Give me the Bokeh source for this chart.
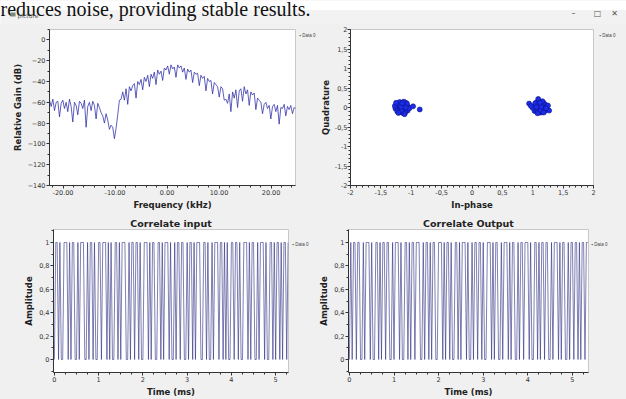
from bokeh.plotting import figure
from bokeh.layouts import column, row
from bokeh.models import (Range1d, SingleIntervalTicker, NumeralTickFormatter,
                          CustomJSTickFormatter)
from bokeh.core.properties import value
from bokeh.embed import file_html
from bokeh.resources import INLINE

# ---------------- data ----------------
freq_start_khz = -22.6
freq_step_khz = 0.32
gain_db = [
    -58, -64, -57, -68, -60, -59, -74, -61, -58, -66,
    -60, -69, -57, -64, -79, -60, -63, -72, -59, -61,
    -66, -58, -84, -64, -60, -68, -59, -63, -76, -61,
    -65, -70, -73, -80, -71, -77, -86, -82, -84, -95,
    -85, -72, -58, -57, -50, -58, -47, -62, -45, -49,
    -44, -42, -56, -40, -43, -38, -48, -36, -40, -34,
    -45, -33, -37, -31, -43, -29, -33, -30, -39, -27,
    -29, -25, -33, -24, -28, -26, -36, -24, -27, -25,
    -31, -27, -38, -28, -31, -29, -41, -31, -33, -32,
    -44, -34, -37, -35, -49, -37, -40, -39, -52, -41,
    -43, -45, -55, -45, -47, -58, -57, -61, -52, -69,
    -50, -56, -48, -65, -49, -47, -59, -45, -52, -48,
    -63, -50, -53, -51, -67, -56, -58, -60, -71, -62,
    -60, -66, -63, -76, -64, -62, -69, -63, -81, -65,
    -66, -62, -73, -64, -67, -63, -71, -65, -66,
]
freq_khz = [freq_start_khz + i * freq_step_khz for i in range(len(gain_db))]

const_i = [
    -1.15, -1.10, -1.20, -1.05, -1.24, -1.12, -1.18, -1.08, -1.22, -1.14,
    -1.16, -1.11, -1.19, -1.06, -1.26, -1.13, -1.17, -1.09, -1.21, -1.15,
    -1.03, -1.27, -1.12, -1.18, -1.10, -1.20, -1.14, -1.16, -1.07, -1.23,
    -1.13, -1.17, -1.11, -1.19, -1.15, -1.09, -1.21, -0.97, -0.86, -1.25,
    1.12, 1.07, 1.17, 1.02, 1.21, 1.09, 1.15, 1.05, 1.19, 1.11,
    1.13, 1.08, 1.16, 1.03, 1.23, 1.10, 1.14, 1.06, 1.18, 1.12,
    1.00, 1.25, 1.09, 1.15, 1.07, 1.27, 1.11, 1.13, 1.04, 1.20,
    1.10, 1.14, 1.08, 1.16, 1.12, 1.06, 1.18, 0.94, 0.97, 1.22,
]
const_q = [
    0.00, 0.05, -0.04, 0.02, 0.06, -0.09, 0.10, -0.06, -0.01, 0.13,
    -0.12, 0.09, 0.03, -0.08, -0.03, -0.15, 0.07, 0.12, 0.11, -0.05,
    -0.02, 0.04, 0.15, -0.11, -0.13, 0.08, 0.02, -0.07, 0.10, -0.10,
    0.06, 0.01, -0.17, 0.14, 0.11, 0.00, -0.14, 0.03, -0.05, 0.12,
    0.00, 0.06, -0.05, 0.03, 0.07, -0.10, 0.11, -0.07, -0.02, 0.14,
    -0.13, 0.10, 0.04, -0.09, -0.04, -0.12, 0.08, 0.13, 0.12, -0.06,
    -0.01, 0.05, 0.22, -0.12, -0.11, -0.08, 0.03, -0.08, 0.11, -0.09,
    0.07, 0.02, -0.15, 0.16, 0.12, 0.01, -0.13, 0.10, 0.04, -0.02,
]

sample_period_ms = 1 / 32
corr_input = [
    0, 1, 1, 0, 1, 0, 0, 1, 1, 1, 0, 1, 0, 1, 1, 0, 0, 1, 0, 1,
    1, 1, 0, 0, 1, 0, 1, 1, 0, 1, 0, 0, 1, 1, 0, 1, 1, 1, 0, 1,
    0, 1, 0, 0, 1, 1, 0, 1, 0, 1, 1, 1, 0, 0, 1, 0, 1, 1, 0, 1,
    1, 0, 1, 0, 0, 1, 1, 1, 0, 1, 0, 1, 1, 0, 0, 1, 1, 0, 1, 0,
    1, 1, 1, 0, 1, 0, 0, 1, 0, 1, 1, 0, 1, 1, 0, 0, 1, 0, 1, 1,
    0, 1, 0, 1, 1, 1, 0, 0, 1, 1, 0, 1, 0, 0, 1, 0, 1, 1, 1, 0,
    1, 1, 0, 1, 0, 1, 0, 0, 1, 1, 0, 1, 1, 0, 1, 0, 0, 1, 1, 1,
    0, 1, 0, 1, 1, 0, 0, 1, 0, 1, 1, 1, 0, 1, 0, 0, 1, 1, 0, 1,
    0, 1, 1, 0, 1, 0, 1, 1, 0, 1,
]
corr_output = [
    0, 1, 0, 1, 1, 0, 1, 1, 0, 0, 1, 0, 1, 1, 1, 0, 1, 0, 0, 1,
    1, 0, 1, 0, 1, 1, 0, 1, 1, 0, 0, 1, 0, 1, 1, 1, 0, 1, 0, 0,
    1, 1, 0, 1, 0, 1, 1, 0, 1, 1, 1, 0, 0, 1, 0, 1, 1, 0, 1, 0,
    1, 1, 0, 0, 1, 1, 1, 0, 1, 0, 1, 1, 0, 1, 0, 0, 1, 1, 0, 1,
    0, 1, 1, 1, 0, 1, 0, 0, 1, 0, 1, 1, 0, 1, 1, 0, 1, 0, 0, 1,
    1, 1, 0, 1, 0, 1, 1, 0, 0, 1, 0, 1, 1, 1, 0, 1, 0, 1, 1, 0,
    0, 1, 0, 1, 1, 0, 1, 1, 1, 0, 1, 0, 0, 1, 1, 0, 1, 0, 1, 1,
    0, 1, 1, 0, 0, 1, 0, 1, 1, 1, 0, 1, 0, 1, 1, 0, 0, 1, 0, 1,
    1, 0, 1, 1, 0, 1, 0, 1, 1, 0, 1, 1,
]
t_in = [i * sample_period_ms for i in range(len(corr_input))]
t_out = [i * sample_period_ms for i in range(len(corr_output))]
legend_text = "\u25aa Data 0"

# ---------------- styling helpers ----------------
GREY = "#f0f0f0"
TICK_FONT = "6.5px"
LABEL_FONT = "8.5px"


def style(p, title=None):
    p.border_fill_color = GREY
    p.background_fill_color = "white"
    p.outline_line_color = "#c8c8c8"
    p.grid.visible = False
    for ax in p.axis:
        ax.axis_line_color = "#333333"
        ax.major_tick_line_color = "#333333"
        ax.minor_tick_line_color = "#333333"
        ax.major_tick_out = 3
        ax.major_tick_in = 0
        ax.minor_tick_out = 2
        ax.minor_tick_in = 0
        ax.major_label_text_font = "DejaVu Sans"
        ax.major_label_text_font_size = TICK_FONT
        ax.major_label_text_color = "#333333"
        ax.major_label_standoff = 1
        ax.axis_label_text_font = "DejaVu Sans"
        ax.axis_label_text_font_size = LABEL_FONT
        ax.axis_label_text_font_style = "bold"
        ax.axis_label_text_color = "#222222"
        ax.axis_label_standoff = 2
    if title:
        p.title.text = title
        p.title.align = "center"
        p.title.text_font = "DejaVu Sans"
        p.title.text_font_size = "9.5px"
        p.title.text_font_style = "bold"
        p.title.text_color = "#222222"
        p.title.standoff = 2


def legend_fig(width, height, ytop):
    """A narrow strip beside a plot, holding its one-entry legend."""
    lf = figure(width=width, height=height, x_range=Range1d(0, width),
                y_range=Range1d(height, 0), toolbar_location=None,
                output_backend="svg", min_border=0,
                x_axis_location=None, y_axis_location=None)
    lf.grid.visible = False
    lf.outline_line_color = None
    lf.background_fill_color = GREY
    lf.border_fill_color = GREY
    lf.text(x=[1], y=[ytop], text=[legend_text], text_font=value("Liberation Sans"),
            text_font_size="4.5px", text_baseline="middle", text_color="#444444")
    return lf


comma = CustomJSTickFormatter(
    code="return (Math.round(tick * 10) / 10).toString().replace('.', ',');")

# ---------------- header (page text + window title bar) ----------------
header = figure(width=626, height=24, x_range=Range1d(0, 626), y_range=Range1d(24, 0),
                toolbar_location=None, output_backend="svg", min_border=0,
                x_axis_location=None, y_axis_location=None)
header.grid.visible = False
header.outline_line_color = None
header.background_fill_color = "white"
header.border_fill_color = "white"
header.quad(left=[0], right=[626], top=[9.5], bottom=[24], fill_color="#f2f2f2", line_color=None)
header.text(x=[0], y=[8], text=["reduces noise, providing stable results."],
            text_font=value("Liberation Serif"), text_font_size="20px",
            text_baseline="alphabetic", text_color="#111111")
header.quad(left=[10], right=[15], top=[12], bottom=[16], fill_color="#7a8a7a", line_color=None)
header.text(x=[17], y=[14.5], text=["picture"], text_font=value("DejaVu Sans"),
            text_font_size="6px", text_baseline="middle", text_color="#666666")
header.text(x=[573, 597, 614], y=[13, 13, 13], text=["\u2013", "\u25a1", "\u2715"],
            text_font=value("DejaVu Sans"), text_font_size="8px", text_baseline="middle",
            text_align="center", text_color="#555555")

# ---------------- top-left: spectrum  (x 0..298) ----------------
p1 = figure(width=298, height=188, x_range=Range1d(-22.6, 24.7), y_range=Range1d(-140, 10),
            toolbar_location=None, output_backend="svg",
            min_border_left=49, min_border_right=3, min_border_top=5, min_border_bottom=24)
p1.line(freq_khz, gain_db, line_color="#2d2da8", line_width=0.9, line_alpha=0.85)
p1.xaxis.ticker = SingleIntervalTicker(interval=10, num_minor_ticks=5)
p1.yaxis.ticker = SingleIntervalTicker(interval=20, num_minor_ticks=2)
p1.xaxis.formatter = NumeralTickFormatter(format="0.00")
p1.xaxis.axis_label = "Frequency (kHz)"
p1.yaxis.axis_label = "Relative Gain (dB)"
style(p1)
leg1 = legend_fig(19, 188, 7)          # x 298..317

# ---------------- top-right: constellation  (x 317..598) ----------------
p2 = figure(width=281, height=188, x_range=Range1d(-2, 2), y_range=Range1d(-2, 2),
            toolbar_location=None, output_backend="svg",
            min_border_left=27, min_border_right=5, min_border_top=5, min_border_bottom=24)
p2.scatter(const_i, const_q, size=5, fill_color="#1a2ee8", line_color="#10108a",
           line_width=0.6)
p2.xaxis.ticker = SingleIntervalTicker(interval=0.5, num_minor_ticks=5)
p2.yaxis.ticker = SingleIntervalTicker(interval=0.5, num_minor_ticks=5)
p2.xaxis.formatter = comma
p2.yaxis.formatter = comma
p2.xaxis.axis_label = "In-phase"
p2.yaxis.axis_label = "Quadrature"
style(p2)
p2.yaxis.major_label_standoff = 0
p2.yaxis.axis_label_standoff = 1
leg2 = legend_fig(28, 188, 7)          # x 598..626

# ---------------- bottom-left: correlate input  (x 0..291) ----------------
p3 = figure(width=291, height=187, x_range=Range1d(-0.02, 5.29), y_range=Range1d(-0.111, 1.111),
            toolbar_location=None, output_backend="svg",
            min_border_left=53, min_border_right=3, min_border_top=17, min_border_bottom=27)
p3.line(t_in, corr_input, line_color="#2b2b80", line_width=1, line_alpha=0.6)
p3.xaxis.ticker = SingleIntervalTicker(interval=1, num_minor_ticks=4)
p3.yaxis.ticker = SingleIntervalTicker(interval=0.2, num_minor_ticks=2)
p3.yaxis.formatter = comma
p3.xaxis.axis_label = "Time (ms)"
p3.yaxis.axis_label = "Amplitude"
style(p3, "Correlate input")
leg3 = legend_fig(25, 187, 20)         # x 291..316

# ---------------- bottom-right: correlate output  (x 316..590) ----------------
p4 = figure(width=274, height=187, x_range=Range1d(-0.02, 5.36), y_range=Range1d(-0.111, 1.111),
            toolbar_location=None, output_backend="svg",
            min_border_left=32, min_border_right=2, min_border_top=17, min_border_bottom=27)
p4.line(t_out, corr_output, line_color="#2b2b80", line_width=1, line_alpha=0.6)
p4.xaxis.ticker = SingleIntervalTicker(interval=1, num_minor_ticks=4)
p4.yaxis.ticker = SingleIntervalTicker(interval=0.2, num_minor_ticks=2)
p4.yaxis.formatter = comma
p4.xaxis.axis_label = "Time (ms)"
p4.yaxis.axis_label = "Amplitude"
style(p4, "Correlate Output")
leg4 = legend_fig(36, 187, 20)         # x 590..626

bg = {"background-color": GREY}
layout = column(header,
                row(p1, leg1, p2, leg2, styles=bg),
                row(p3, leg3, p4, leg4, styles=bg),
                styles=bg)
open("out.html", "w").write(file_html(layout, INLINE))
